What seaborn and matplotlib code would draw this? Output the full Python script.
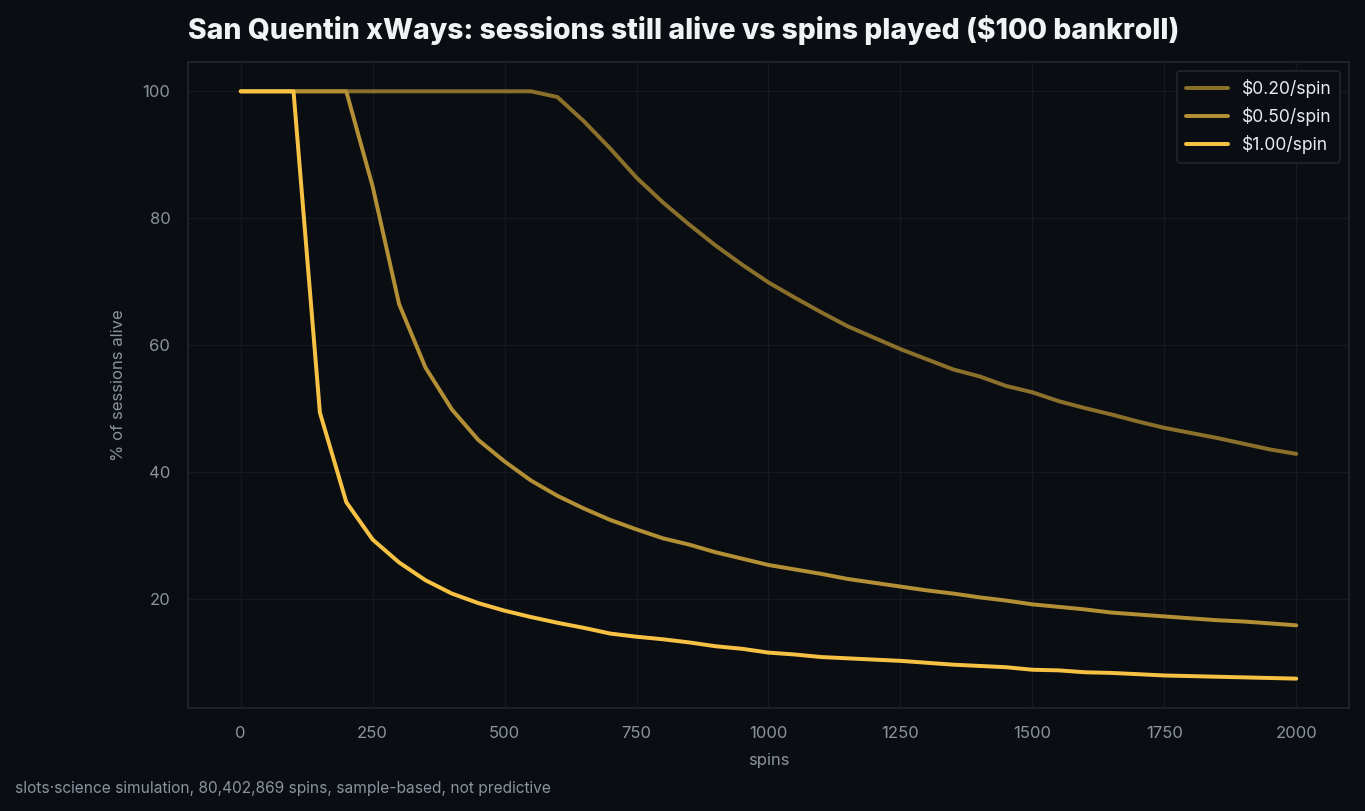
import numpy as np
import pandas as pd
import matplotlib
matplotlib.use("Agg")
import matplotlib.pyplot as plt
import seaborn as sns

# spins played (every 50)
spins = list(range(0, 2001, 50))

# % of sessions still alive
alive_020 = [100, 100, 100, 100, 100, 100, 100, 100, 100, 100, 100, 100,
             99.1, 95.3, 91.0, 86.4, 82.5, 79.0, 75.7, 72.7, 69.9, 67.5,
             65.2, 63.0, 61.2, 59.4, 57.8, 56.2, 55.1, 53.6, 52.6, 51.2,
             50.1, 49.1, 48.0, 47.0, 46.2, 45.4, 44.5, 43.6, 42.9]
alive_050 = [100, 100, 100, 100, 100, 85.0, 66.5, 56.5, 49.9, 45.1, 41.7,
             38.7, 36.3, 34.3, 32.5, 31.0, 29.6, 28.6, 27.4, 26.4, 25.4,
             24.7, 24.0, 23.2, 22.6, 22.0, 21.4, 20.9, 20.3, 19.8, 19.2,
             18.8, 18.4, 17.9, 17.6, 17.3, 17.0, 16.7, 16.5, 16.2, 15.9]
alive_100 = [100, 100, 100, 49.4, 35.3, 29.4, 25.8, 23.0, 20.9, 19.4, 18.2,
             17.2, 16.3, 15.5, 14.6, 14.1, 13.7, 13.2, 12.6, 12.2, 11.6,
             11.3, 10.9, 10.7, 10.5, 10.3, 10.0, 9.7, 9.5, 9.3, 8.9,
             8.8, 8.5, 8.4, 8.2, 8.0, 7.9, 7.8, 7.7, 7.6, 7.5]

stakes = ["$0.20/spin", "$0.50/spin", "$1.00/spin"]

BG = "#0a0d12"
GRID = "#151a21"
SPINE = "#21262d"
MUTED = "#8b949e"
palette = {"$0.20/spin": "#8b702c", "$0.50/spin": "#b38f35", "$1.00/spin": "#f7c244"}

frames = []
for stake, vals in zip(stakes, [alive_020, alive_050, alive_100]):
    frames.append(pd.DataFrame({"spins": spins, "alive": vals, "stake": stake}))
df = pd.concat(frames, ignore_index=True)

sns.set_theme(style="dark")
plt.rcParams['font.family'] = ['Inter', 'DejaVu Sans']
plt.rcParams['axes.unicode_minus'] = False

fig = plt.figure(figsize=(9.1, 5.4067), dpi=150, facecolor=BG)
ax = fig.add_axes([0.1377, 0.127, 0.8506, 0.7966])
ax.set_facecolor(BG)

sns.lineplot(data=df, x="spins", y="alive", hue="stake", hue_order=stakes,
             palette=palette, linewidth=1.9, ax=ax)

ax.grid(True, color=GRID, linewidth=0.6)
ax.set_axisbelow(True)
for s in ax.spines.values():
    s.set_color(SPINE)
    s.set_linewidth(0.8)

ax.set_xticks([0, 250, 500, 750, 1000, 1250, 1500, 1750, 2000])
ax.set_yticks([20, 40, 60, 80, 100])
ax.tick_params(colors=MUTED, labelsize=8, length=3.5, width=0.8, pad=5)
ax.set_xlabel("spins", color=MUTED, fontsize=8, labelpad=6)
ax.set_ylabel("% of sessions alive", color=MUTED, fontsize=8, labelpad=8)

ax.set_title("San Quentin xWays: sessions still alive vs spins played ($100 bankroll)",
             loc="left", color="#f0f3f6", fontsize=13.6, fontweight="heavy", pad=11)

leg = ax.legend(loc="upper right", fontsize=8.4, frameon=True, facecolor=BG,
                edgecolor=SPINE, framealpha=1, borderpad=0.5, handlelength=2.4)
leg.get_frame().set_linewidth(0.8)
for t in leg.get_texts():
    t.set_color("#e6edf3")

fig.text(0.011, 0.028, "slots\u00b7science simulation, 80,402,869 spins, sample-based, not predictive",
         color=MUTED, fontsize=7.45, ha="left", va="center")

fig.savefig("out.png", dpi=150, facecolor=BG)
